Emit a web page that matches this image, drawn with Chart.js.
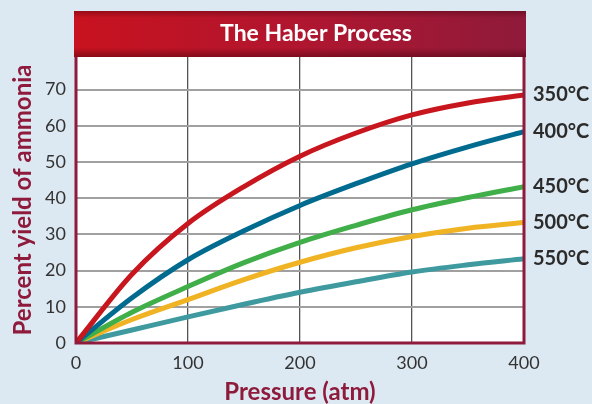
<!DOCTYPE html>
<html>
<head>
<meta charset="utf-8">
<script src="https://cdn.jsdelivr.net/npm/chart.js@4.4.1/dist/chart.umd.min.js"></script>
<style>
  html, body { margin: 0; padding: 0; background: #dde9f2; }
  #wrap { width: 592px; height: 404px; }
</style>
</head>
<body>
<div id="wrap"><canvas id="grafica" width="592" height="404"></canvas></div>
<script>
// Datos
const presiones = [0, 50, 100, 150, 200, 250, 300, 350, 400];
const temperaturas = ["350°C", "400°C", "450°C", "500°C", "550°C"];
const rend350 = [0, 19, 33, 43.2, 51.6, 58, 63, 66.3, 68.5];
const rend400 = [0, 12.5, 23, 31, 38, 44, 49.5, 54.2, 58.4];
const rend450 = [0, 8.5, 15.6, 22.2, 27.8, 32.5, 36.8, 40.2, 43.2];
const rend500 = [0, 6.5, 12, 17.5, 22.3, 26.3, 29.4, 31.7, 33.3];
const rend550 = [0, 3.6, 7.2, 10.7, 14, 16.9, 19.6, 21.6, 23.3];
const colores = ["#c8161e", "#006b8f", "#40ae49", "#f0b323", "#3f9aa0"];
const titulo = "The Haber Process";

const series = [rend350, rend400, rend450, rend500, rend550];
const fuente = "Lato, 'Open Sans', sans-serif";
const granate = "#8e1b3c";

// Banda del titulo, marco y etiquetas de temperatura
const decoracion = {
    id: "decoracion",
    beforeDraw(chart) {
        const { ctx, chartArea: a } = chart;
        ctx.save();
        ctx.fillStyle = "#dde9f2";
        ctx.fillRect(0, 0, chart.width, chart.height);
        ctx.fillStyle = "#ffffff";
        ctx.fillRect(a.left, a.top, a.right - a.left, a.bottom - a.top);

        const x0 = a.left - 2, x1 = a.right + 2, y0 = 11, y1 = a.top;
        const g = ctx.createLinearGradient(x0, 0, x1, 0);
        g.addColorStop(0, "#c8121f");
        g.addColorStop(0.5, "#b0162f");
        g.addColorStop(1, "#8f1a3a");
        ctx.fillStyle = g;
        ctx.fillRect(x0, y0, x1 - x0, y1 - y0);
        // sombra interior
        const v = ctx.createLinearGradient(0, y0, 0, y1);
        v.addColorStop(0, "rgba(60,0,10,0.35)");
        v.addColorStop(0.15, "rgba(60,0,10,0)");
        v.addColorStop(0.8, "rgba(60,0,10,0)");
        v.addColorStop(1, "rgba(60,0,10,0.45)");
        ctx.fillStyle = v;
        ctx.fillRect(x0, y0, x1 - x0, y1 - y0);

        ctx.fillStyle = "#ffffff";
        ctx.font = "bold 23px " + fuente;
        ctx.textAlign = "center";
        ctx.textBaseline = "middle";
        ctx.fillText(titulo, 316, 34);
        ctx.restore();
    },
    afterDatasetsDraw(chart) {
        const { ctx, chartArea: a } = chart;
        ctx.save();
        ctx.strokeStyle = granate;
        ctx.lineWidth = 3;
        ctx.beginPath();
        ctx.moveTo(a.left, a.top);
        ctx.lineTo(a.left, a.bottom);
        ctx.lineTo(a.right, a.bottom);
        ctx.lineTo(a.right, a.top);
        ctx.stroke();

        ctx.fillStyle = "#2b2b2b";
        ctx.font = "bold 20px " + fuente;
        ctx.textAlign = "left";
        ctx.textBaseline = "middle";
        chart.data.datasets.forEach((ds, i) => {
            const pts = chart.getDatasetMeta(i).data;
            const ultimo = pts[pts.length - 1];
            ctx.fillText(ds.label, a.right + 9, ultimo.y);
        });
        ctx.restore();
    }
};

new Chart(document.getElementById("grafica"), {
    type: "line",
    data: {
        datasets: series.map((s, i) => ({
            label: temperaturas[i],
            data: presiones.map((p, j) => ({ x: p, y: s[j] })),
            borderColor: colores[i],
            borderWidth: 5,
            pointRadius: 0,
            fill: false,
            cubicInterpolationMode: "monotone"
        }))
    },
    options: {
        responsive: false,
        animation: false,
        layout: { padding: { left: 0, top: 57, right: 68, bottom: 0 } },
        plugins: { legend: { display: false }, tooltip: { enabled: false } },
        scales: {
            x: {
                type: "linear",
                min: 0,
                max: 400,
                afterFit: s => { s.height = 61; },
                border: { display: false },
                grid: { color: "#555555", lineWidth: 1.3, drawTicks: false },
                ticks: { stepSize: 100, padding: 9, color: "#333333", font: { family: fuente, size: 18 } },
                title: {
                    display: true,
                    text: "Pressure (atm)",
                    color: granate,
                    font: { family: fuente, size: 24, weight: "bold", lineHeight: 1 },
                    padding: { top: 0, bottom: 0 }
                }
            },
            y: {
                min: 0,
                max: 79,
                afterFit: s => { s.width = 76; },
                afterBuildTicks: s => { s.ticks = s.ticks.filter(t => t.value % 10 === 0); },
                border: { display: false },
                grid: { color: "#a0a0a0", lineWidth: 2, drawTicks: false },
                ticks: { stepSize: 10, padding: 10, color: "#333333", font: { family: fuente, size: 18 } },
                title: {
                    display: true,
                    text: "Percent yield of ammonia",
                    color: granate,
                    font: { family: fuente, size: 24, weight: "bold", lineHeight: 1 },
                    padding: { top: 11, bottom: 0 }
                }
            }
        }
    },
    plugins: [decoracion]
});
</script>
</body>
</html>
